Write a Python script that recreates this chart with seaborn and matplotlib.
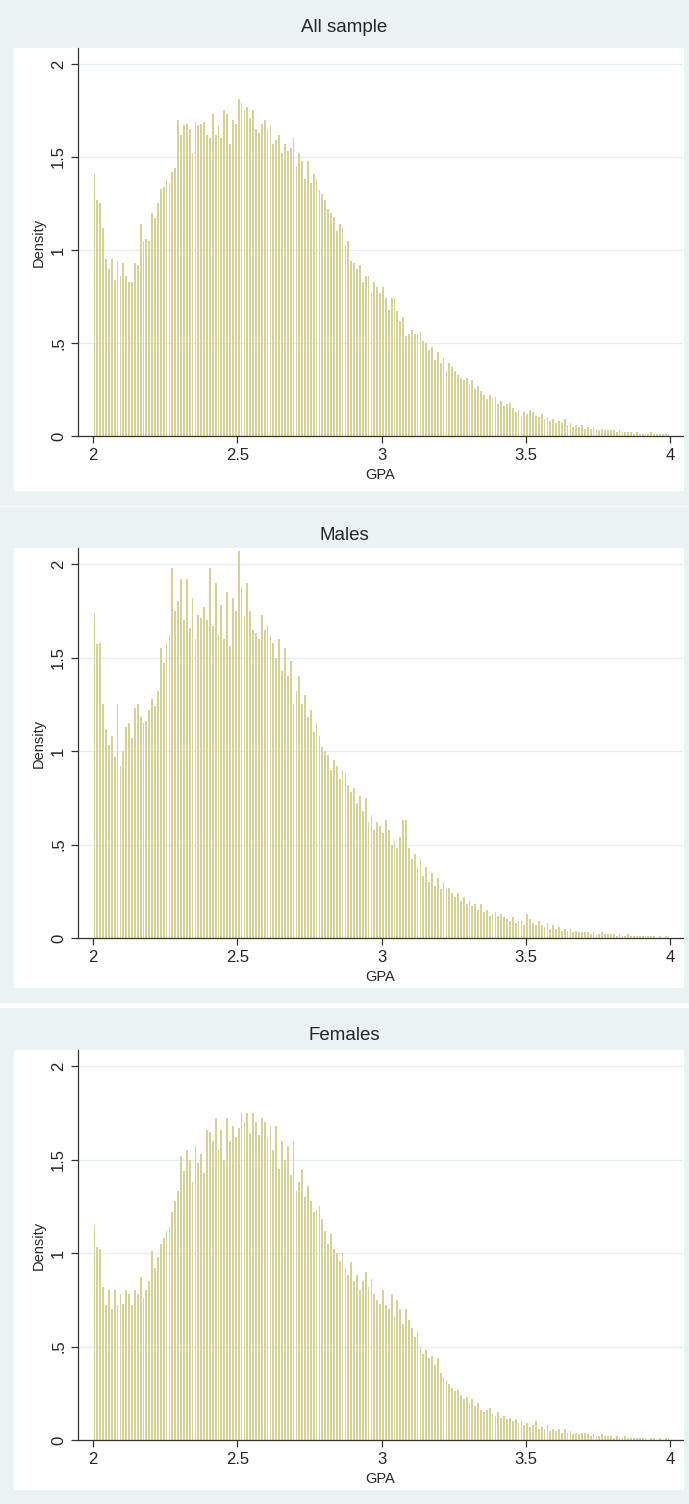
import numpy as np
import pandas as pd
import matplotlib
matplotlib.use("Agg")
import matplotlib.pyplot as plt
import seaborn as sns
from matplotlib.patches import Rectangle

sns.set_style("white")
plt.rcParams['font.family'] = ['Arial', 'Liberation Sans', 'DejaVu Sans']

bin_left = [round(2 + 0.01 * i, 2) for i in range(200)]

all_density = [
    1.41, 1.27, 1.25, 1.12, 0.95, 0.90, 0.95, 0.84, 0.94, 0.86,
    0.93, 0.86, 0.83, 0.83, 0.93, 0.92, 1.14, 1.05, 1.06, 1.05,
    1.20, 1.17, 1.25, 1.33, 1.34, 1.38, 1.36, 1.42, 1.44, 1.70,
    1.62, 1.67, 1.68, 1.65, 1.52, 1.69, 1.67, 1.68, 1.69, 1.62,
    1.60, 1.73, 1.62, 1.67, 1.60, 1.75, 1.73, 1.57, 1.70, 1.68,
    1.81, 1.79, 1.75, 1.77, 1.71, 1.75, 1.65, 1.63, 1.68, 1.70,
    1.65, 1.67, 1.57, 1.59, 1.62, 1.52, 1.57, 1.53, 1.55, 1.60,
    1.45, 1.52, 1.48, 1.38, 1.48, 1.36, 1.41, 1.38, 1.32, 1.30,
    1.27, 1.22, 1.20, 1.18, 1.10, 1.14, 1.12, 1.02, 1.05, 0.94,
    0.93, 0.90, 0.92, 0.83, 0.86, 0.86, 0.77, 0.83, 0.80, 0.77,
    0.80, 0.74, 0.68, 0.74, 0.74, 0.67, 0.62, 0.64, 0.54, 0.55,
    0.57, 0.55, 0.55, 0.56, 0.51, 0.50, 0.46, 0.48, 0.41, 0.45,
    0.39, 0.42, 0.35, 0.39, 0.37, 0.35, 0.33, 0.31, 0.30, 0.31,
    0.28, 0.30, 0.25, 0.27, 0.24, 0.22, 0.20, 0.22, 0.20, 0.21,
    0.17, 0.19, 0.16, 0.17, 0.18, 0.15, 0.13, 0.14, 0.11, 0.13,
    0.12, 0.14, 0.13, 0.11, 0.10, 0.12, 0.09, 0.10, 0.08, 0.09,
    0.07, 0.08, 0.07, 0.09, 0.06, 0.07, 0.05, 0.06, 0.05, 0.06,
    0.04, 0.05, 0.04, 0.05, 0.04, 0.03, 0.04, 0.03, 0.03, 0.03,
    0.03, 0.02, 0.03, 0.02, 0.02, 0.02, 0.02, 0.01, 0.02, 0.01,
    0.01, 0.01, 0.01, 0.02, 0.01, 0.01, 0.01, 0.01, 0.01, 0.01,
]

male_density = [
    1.74, 1.57, 1.58, 1.25, 1.12, 1.03, 1.08, 0.97, 1.25, 0.92,
    1.00, 1.13, 1.15, 1.07, 1.23, 1.25, 1.18, 1.15, 1.16, 1.22,
    1.28, 1.24, 1.32, 1.55, 1.47, 1.58, 1.62, 1.98, 1.75, 1.80,
    1.92, 1.70, 1.92, 1.66, 1.82, 1.60, 1.73, 1.71, 1.77, 1.70,
    1.98, 1.67, 1.90, 1.62, 1.78, 1.60, 1.85, 1.56, 1.82, 1.75,
    2.07, 1.88, 1.72, 1.90, 1.75, 1.65, 1.63, 1.60, 1.73, 1.65,
    1.67, 1.62, 1.58, 1.50, 1.60, 1.43, 1.55, 1.40, 1.48, 1.25,
    1.32, 1.40, 1.25, 1.30, 1.18, 1.22, 1.10, 1.15, 1.08, 1.02,
    1.00, 0.98, 0.90, 0.95, 0.92, 0.85, 0.90, 0.88, 0.82, 0.78,
    0.80, 0.72, 0.76, 0.68, 0.75, 0.62, 0.66, 0.58, 0.62, 0.60,
    0.56, 0.63, 0.58, 0.50, 0.52, 0.48, 0.54, 0.63, 0.63, 0.48,
    0.42, 0.45, 0.38, 0.42, 0.33, 0.38, 0.30, 0.35, 0.28, 0.32,
    0.26, 0.30, 0.27, 0.27, 0.24, 0.22, 0.24, 0.20, 0.22, 0.18,
    0.20, 0.17, 0.18, 0.15, 0.18, 0.14, 0.15, 0.12, 0.13, 0.14,
    0.12, 0.13, 0.11, 0.10, 0.09, 0.11, 0.08, 0.09, 0.09, 0.07,
    0.13, 0.10, 0.08, 0.07, 0.09, 0.07, 0.06, 0.08, 0.05, 0.07,
    0.05, 0.06, 0.04, 0.05, 0.04, 0.05, 0.03, 0.04, 0.03, 0.03,
    0.03, 0.03, 0.02, 0.03, 0.02, 0.02, 0.03, 0.02, 0.02, 0.02,
    0.02, 0.01, 0.02, 0.01, 0.01, 0.02, 0.01, 0.01, 0.01, 0.01,
    0.01, 0.01, 0.01, 0.01, 0.01, 0.00, 0.01, 0.00, 0.01, 0.01,
]

female_density = [
    1.15, 1.03, 1.02, 0.82, 0.72, 0.80, 0.70, 0.80, 0.72, 0.78,
    0.73, 0.80, 0.78, 0.72, 0.80, 0.78, 0.87, 0.76, 0.80, 0.85,
    1.01, 0.92, 0.98, 1.05, 1.08, 1.12, 1.14, 1.22, 1.28, 1.33,
    1.52, 1.44, 1.55, 1.50, 1.38, 1.57, 1.48, 1.53, 1.43, 1.66,
    1.65, 1.60, 1.72, 1.55, 1.66, 1.50, 1.72, 1.60, 1.68, 1.62,
    1.67, 1.75, 1.70, 1.75, 1.64, 1.75, 1.70, 1.63, 1.72, 1.70,
    1.62, 1.68, 1.55, 1.68, 1.45, 1.60, 1.50, 1.57, 1.42, 1.60,
    1.33, 1.38, 1.45, 1.30, 1.36, 1.28, 1.22, 1.23, 1.25, 1.18,
    1.12, 1.05, 1.10, 1.02, 1.00, 0.96, 1.00, 0.92, 0.88, 0.95,
    0.85, 0.88, 0.80, 0.85, 0.90, 0.82, 0.86, 0.78, 0.75, 0.73,
    0.80, 0.72, 0.70, 0.78, 0.66, 0.75, 0.70, 0.62, 0.70, 0.64,
    0.60, 0.55, 0.58, 0.50, 0.46, 0.48, 0.44, 0.45, 0.40, 0.44,
    0.36, 0.33, 0.32, 0.30, 0.28, 0.26, 0.27, 0.24, 0.22, 0.23,
    0.20, 0.22, 0.18, 0.20, 0.16, 0.15, 0.16, 0.17, 0.14, 0.13,
    0.15, 0.12, 0.13, 0.11, 0.12, 0.10, 0.11, 0.09, 0.10, 0.08,
    0.09, 0.07, 0.08, 0.10, 0.06, 0.07, 0.06, 0.08, 0.05, 0.06,
    0.05, 0.06, 0.04, 0.06, 0.04, 0.05, 0.03, 0.04, 0.03, 0.04,
    0.04, 0.03, 0.02, 0.03, 0.02, 0.02, 0.03, 0.02, 0.02, 0.02,
    0.01, 0.02, 0.01, 0.01, 0.02, 0.01, 0.01, 0.01, 0.01, 0.01,
    0.01, 0.01, 0.00, 0.01, 0.01, 0.00, 0.01, 0.00, 0.01, 0.01,
]

titles = ["All sample", "Males", "Females"]
series = [all_density, male_density, female_density]
edges = [round(2 + 0.01 * i, 2) for i in range(201)]

W, H = 689, 1504
fig = plt.figure(figsize=(W / 100, H / 100), dpi=100)
bg = "#eaf2f3"

# (panel top, panel bottom, axes top, axes bottom) in pixels
panels = [(0, 505, 48, 436), (507, 1002, 548, 938), (1008, 1504, 1050, 1440)]

for (ptop, pbot, atop, abot), title, dens in zip(panels, titles, series):
    fig.patches.append(Rectangle((0, 1 - pbot / H), 1, (pbot - ptop) / H,
                                 transform=fig.transFigure, color=bg, zorder=0))
    fig.patches.append(Rectangle((14 / W, 1 - (pbot - 15) / H), 669 / W, (pbot - 15 - atop) / H,
                                 transform=fig.transFigure, color="white", zorder=0))
    ax = fig.add_axes([78 / W, 1 - abot / H, (683 - 78) / W, (abot - atop) / H])
    ax.set_zorder(5)
    df = pd.DataFrame({"gpa": bin_left, "density": dens})
    sns.histplot(data=df, x="gpa", weights="density", bins=edges, shrink=0.62,
                 color="#d8d196", edgecolor="none", linewidth=0, alpha=1, ax=ax)
    ax.set_xlim(1.948, 4.045)
    ax.set_ylim(0, 2.086)
    ax.set_yticks([0, 0.5, 1, 1.5, 2])
    ax.set_yticklabels(["0", ".5", "1", "1.5", "2"], rotation=90, va="center")
    ax.set_xticks([2, 2.5, 3, 3.5, 4])
    ax.set_xticklabels(["2", "2.5", "3", "3.5", "4"])
    ax.grid(axis="y", color="#e6eeef", linewidth=1)
    ax.set_axisbelow(True)
    for s in ["top", "right"]:
        ax.spines[s].set_visible(False)
    for s in ["left", "bottom"]:
        ax.spines[s].set_color("#333333")
        ax.spines[s].set_linewidth(0.9)
    ax.tick_params(axis="both", length=5, width=0.9, color="#333333", labelsize=12,
                   bottom=True, left=True)
    ax.set_xlabel("GPA", fontsize=10.5)
    ax.set_ylabel("Density", fontsize=10.5)
    fig.text(0.5, 1 - (ptop + 28) / H, title, ha="center", va="center", fontsize=13.5)

fig.savefig("out.png", dpi=100)
